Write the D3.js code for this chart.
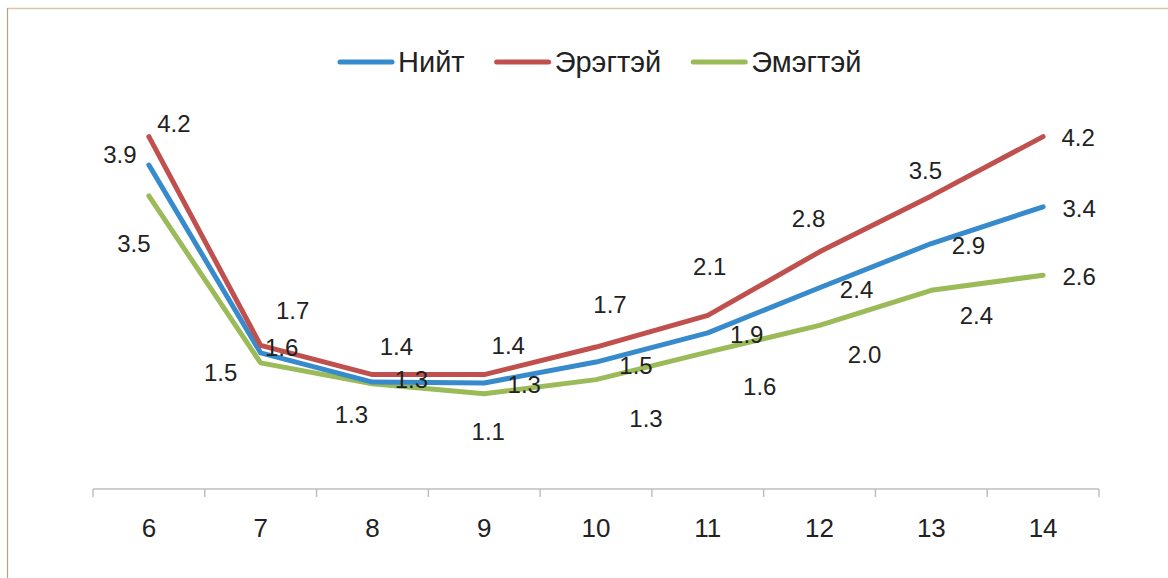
<!DOCTYPE html>
<html>
<head>
<meta charset="utf-8">
<script src="https://cdn.jsdelivr.net/npm/d3@7"></script>
<style>
  body { margin: 0; background: #fff; }
  svg { display: block; font-family: "Liberation Sans", Arial, sans-serif; }
</style>
</head>
<body>
<svg id="drawing_region"></svg>
<script>
// age groups on the x axis
const ages = ['6', '7', '8', '9', '10', '11', '12', '13', '14'];

// series values
const total  = [3.88, 1.63, 1.28, 1.27, 1.52, 1.87, 2.41, 2.94, 3.38];
const male   = [4.22, 1.72, 1.37, 1.37, 1.70, 2.08, 2.84, 3.51, 4.22];
const female = [3.51, 1.51, 1.26, 1.14, 1.31, 1.64, 1.96, 2.38, 2.56];

const seriesNames = ['Нийт', 'Эрэгтэй', 'Эмэгтэй'];

// label nudges (px) from each point, the way they sit in the original
const labelDx = [
    [-29, 21, 39, 40, 40, 39, 37, 37, 36],
    [25, 32, 24, 24, 14, 2, -11, -6, 35],
    [-15, -40, -21, 4, 50, 52, 45, 45, 36]
];
const labelDy = [
    [-11, -6, -3, 1, 3, 2, 2, 2, 2],
    [-13, -35, -28, -29, -43, -49, -34, -26, 1],
    [47, 9, 31, 38, 39, 34, 29, 25, 1]
];

const config = {
    width: 1168,
    height: 578,
    left: 93,
    right: 1099,
    axisY: 489,
    top: 71.5,
    colors: ['#378bcd', '#c0504d', '#9bbb59']
};

const svg = d3.select('#drawing_region')
    .attr('width', config.width)
    .attr('height', config.height);

// frame (only top and left edges show in the picture)
svg.append('line')
    .attr('x1', 7).attr('x2', config.width)
    .attr('y1', 8.5).attr('y2', 8.5)
    .attr('stroke', '#d8c8a5').attr('stroke-width', 1.5);
svg.append('line')
    .attr('x1', 7.5).attr('x2', 7.5)
    .attr('y1', 8).attr('y2', config.height)
    .attr('stroke', '#b3a47e').attr('stroke-width', 1.2);

const x = d3.scaleBand()
    .domain(ages)
    .range([config.left, config.right]);

const y = d3.scaleLinear()
    .domain([0, 5])
    .range([config.axisY, config.top]);

// x axis: labels at band centres, ticks at band edges
const axis = svg.append('g')
    .attr('transform', `translate(0, ${config.axisY})`)
    .call(d3.axisBottom(x).tickSize(0).tickPadding(30));
axis.select('.domain').remove();
axis.selectAll('text')
    .attr('fill', '#222')
    .style('font-size', '26px')
    .style('font-family', '"Liberation Sans", Arial, sans-serif');

svg.append('line')
    .attr('x1', config.left).attr('x2', config.right)
    .attr('y1', config.axisY).attr('y2', config.axisY)
    .attr('stroke', '#bfbfbf').attr('stroke-width', 1.5);

const edges = ages.map(a => x(a)).concat([x.range()[1]]);
svg.selectAll('.edge-tick')
    .data(edges)
    .enter()
    .append('line')
    .attr('class', 'edge-tick')
    .attr('x1', d => d).attr('x2', d => d)
    .attr('y1', config.axisY).attr('y2', config.axisY + 8)
    .attr('stroke', '#bfbfbf').attr('stroke-width', 1.5);

const series = [total, male, female].map((vals, i) => ({
    name: seriesNames[i],
    color: config.colors[i],
    points: vals.map((v, j) => ({ age: ages[j], value: v, dx: labelDx[i][j], dy: labelDy[i][j] }))
}));

const line = d3.line()
    .x(d => x(d.age) + x.bandwidth() / 2)
    .y(d => y(d.value));

// draw female first so the others sit on top, as in the original
const drawOrder = [series[2], series[0], series[1]];
svg.selectAll('.series-line')
    .data(drawOrder)
    .enter()
    .append('path')
    .attr('class', 'series-line')
    .attr('d', d => line(d.points))
    .attr('fill', 'none')
    .attr('stroke', d => d.color)
    .attr('stroke-width', 5)
    .attr('stroke-linejoin', 'round')
    .attr('stroke-linecap', 'round');

// value labels
series.forEach(s => {
    svg.selectAll(null)
        .data(s.points)
        .enter()
        .append('text')
        .attr('x', d => x(d.age) + x.bandwidth() / 2 + d.dx)
        .attr('y', d => y(d.value) + d.dy)
        .attr('dy', '0.36em')
        .attr('text-anchor', 'middle')
        .attr('fill', '#222')
        .style('font-size', '24px')
        .text(d => d.value.toFixed(1));
});

// legend
const legend = svg.append('g').attr('transform', 'translate(338, 62)');
let cursor = 0;
series.forEach(s => {
    const item = legend.append('g').attr('transform', `translate(${cursor}, 0)`);
    item.append('line')
        .attr('x1', 2).attr('x2', 54)
        .attr('y1', 0).attr('y2', 0)
        .attr('stroke', s.color)
        .attr('stroke-width', 5)
        .attr('stroke-linecap', 'round');
    const t = item.append('text')
        .attr('x', 60)
        .attr('dy', '0.36em')
        .attr('fill', '#222')
        .style('font-size', '29px')
        .text(s.name);
    cursor += 60 + t.node().getComputedTextLength() + 30;
});
</script>
</body>
</html>
